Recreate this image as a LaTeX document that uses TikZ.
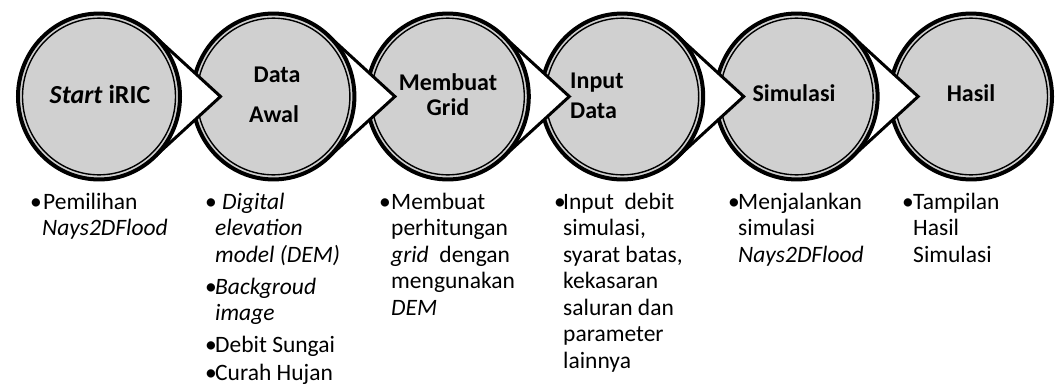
\documentclass[tikz,border=0pt]{standalone}
\usepackage{fontspec}
\setmainfont{Carlito}
\definecolor{cgray}{RGB}{208,208,208}
\tikzset{
  lbl/.style={font=\fontsize{24}{28}\selectfont\bfseries, inner sep=0pt},
  btxt/.style={font=\fontsize{23.5}{26.5}\selectfont, inner sep=0pt, anchor=base west},
  ring/.style={line width=4pt},
  iring/.style={line width=1.4pt},
  tailline/.style={line width=3pt, line join=miter}
}
\begin{document}
\begin{tikzpicture}[x=1pt,y=-1pt]
\useasboundingbox[fill=white] (0,0) rectangle (1056,391);
\foreach \i in {5,4,3,2,1,0} {
  \begin{scope}[shift={(99+174.4*\i,96.5)}, yscale=1.0241]
    \ifnum\i<5
      \fill[white] (48.19:81) -- (121.5,0) -- (-48.19:81) -- cycle;
      \draw[tailline] (48.19:81) -- (121.5,0) -- (-48.19:81);
    \fi
    \fill[cgray] (0,0) circle (81);
    \draw[ring] (0,0) circle (81);
    \draw[iring] (0,0) circle (76.5);
  \end{scope}
}
% circle labels
\node[lbl, anchor=base, font=\fontsize{26}{30}\selectfont\bfseries] (l1) at (100,103) {\textit{Start} iRIC};
\node[lbl, anchor=base] (l2a) at (277,82) {Data};
\node[lbl, anchor=base] (l2b) at (274,122) {Awal};
\node[lbl, anchor=base] (l3a) at (448,90) {Membuat};
\node[lbl, anchor=base] (l3b) at (448,115) {Grid};
\node[lbl, anchor=base west] (l4a) at (570,88) {Input};
\node[lbl, anchor=base west] (l4b) at (570,118) {Data};
\node[lbl, anchor=base] (l5) at (794,101) {Simulasi};
\node[lbl, anchor=base] (l6) at (971,101) {Hasil};
% column 1
\node[btxt] (b1) at (30,209) {•};
\node[btxt] (c1a) at (43,209) {Pemilihan};
\node[btxt] (c1b) at (42,235.5) {\textit{Nays2DFlood}};
% column 2
\node[btxt] (b2a) at (205,209) {•};
\node[btxt] (c2a) at (222,209) {\textit{Digital}};
\node[btxt] (c2b) at (215,235.5) {\textit{elevation}};
\node[btxt] (c2c) at (215,262) {\textit{model (DEM)}};
\node[btxt] (b2b) at (205,294) {•};
\node[btxt] (c2d) at (215,294) {\textit{Backgroud}};
\node[btxt] (c2e) at (215,320.5) {\textit{image}};
\node[btxt] (b2c) at (205,352) {•};
\node[btxt] (c2f) at (215,352) {Debit Sungai};
\node[btxt] (b2d) at (205,380.5) {•};
\node[btxt] (c2g) at (215,380.5) {Curah Hujan};
% column 3
\node[btxt] (b3) at (379,209) {•};
\node[btxt] (c3a) at (391,209) {Membuat};
\node[btxt] (c3b) at (391,235.5) {perhitungan};
\node[btxt] (c3c) at (391,262) {\textit{grid}\ \ dengan};
\node[btxt] (c3d) at (391,288.5) {mengunakan};
\node[btxt] (c3e) at (391,315) {\textit{DEM}};
% column 4
\node[btxt] (b4) at (554,209) {•};
\node[btxt] (c4a) at (563,209) {Input\ \ debit};
\node[btxt] (c4b) at (563,235.5) {simulasi,};
\node[btxt] (c4c) at (563,262) {syarat batas,};
\node[btxt] (c4d) at (563,288.5) {kekasaran};
\node[btxt] (c4e) at (563,315) {saluran dan};
\node[btxt] (c4f) at (563,341.5) {parameter};
\node[btxt] (c4g) at (563,368) {lainnya};
% column 5
\node[btxt] (b5) at (728,209) {•};
\node[btxt] (c5a) at (738,209) {Menjalankan};
\node[btxt] (c5b) at (738,235.5) {simulasi};
\node[btxt] (c5c) at (738,262) {\textit{Nays2DFlood}};
% column 6
\node[btxt] (b6) at (902,209) {•};
\node[btxt] (c6a) at (913,209) {Tampilan};
\node[btxt] (c6b) at (913,235.5) {Hasil};
\node[btxt] (c6c) at (913,262) {Simulasi};
\end{tikzpicture}
\end{document}
